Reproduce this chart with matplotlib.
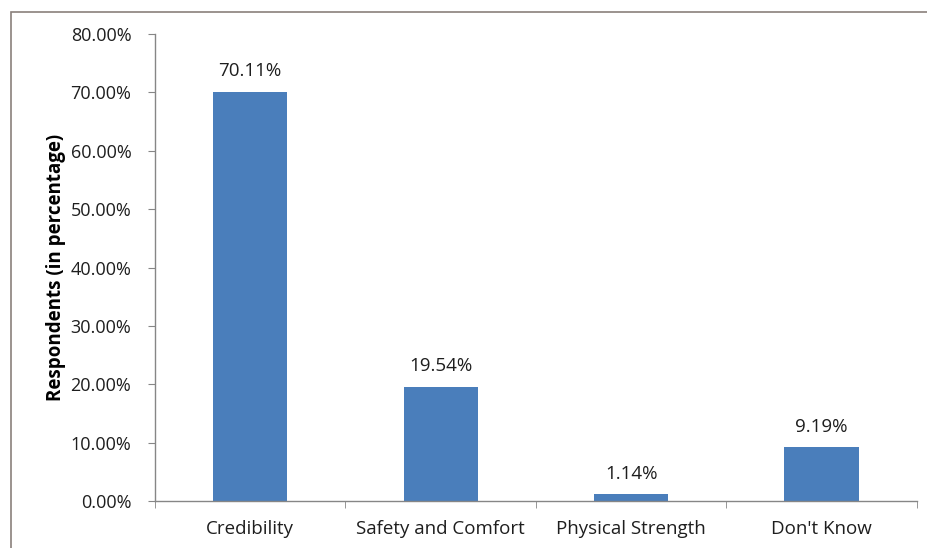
import matplotlib
matplotlib.use("Agg")
import matplotlib.pyplot as plt
from matplotlib.patches import Rectangle
from matplotlib.ticker import FuncFormatter

categories = ["Credibility", "Safety and Comfort", "Physical Strength", "Don't Know"]
values = [70.11, 19.54, 1.14, 9.19]
yticks = [0, 10, 20, 30, 40, 50, 60, 70, 80]

plt.rcParams['font.family'] = ['Open Sans', 'DejaVu Sans']

fig = plt.figure(figsize=(9.28, 5.48), dpi=100)
ax = fig.add_axes([0.167, 0.0858, 0.821, 0.852])

# outer chart border (cropped on right/bottom)
fig.patches.append(Rectangle((0.012, -0.05), 1.2, 0.978 + 0.05, transform=fig.transFigure,
                             fill=False, edgecolor='#8a807c', linewidth=1.2))

x = list(range(len(categories)))
ax.bar(x, values, width=0.39, color='#4a7ebb', zorder=2)
for xi, v in zip(x, values):
    ax.text(xi, v + 2.0, f"{v:.2f}%", ha='center', va='bottom', fontsize=13.5, color='#1e1e1e')

ax.set_xlim(-0.5, len(categories) - 0.5)
ax.set_ylim(0, 80)
ax.set_yticks(yticks)
ax.yaxis.set_major_formatter(FuncFormatter(lambda v, p: f"{v:.2f}%"))
ax.set_xticks(x)
ax.set_xticklabels(categories)
ax.set_xticks([i - 0.5 for i in range(len(categories) + 1)], minor=True)
ax.tick_params(axis='x', which='major', length=0, pad=14, labelsize=13.5, labelcolor='#1e1e1e')
ax.tick_params(axis='x', which='minor', length=5, color='#868686', direction='out')
ax.tick_params(axis='y', length=5, color='#868686', labelsize=13, labelcolor='#1e1e1e', pad=12)

for s in ['top', 'right']:
    ax.spines[s].set_visible(False)
for s in ['left', 'bottom']:
    ax.spines[s].set_color('#868686')
    ax.spines[s].set_linewidth(1.0)

ax.set_ylabel("Respondents (in percentage)", fontsize=13.5, fontweight='bold', labelpad=3)

fig.savefig("out.png", dpi=100)
